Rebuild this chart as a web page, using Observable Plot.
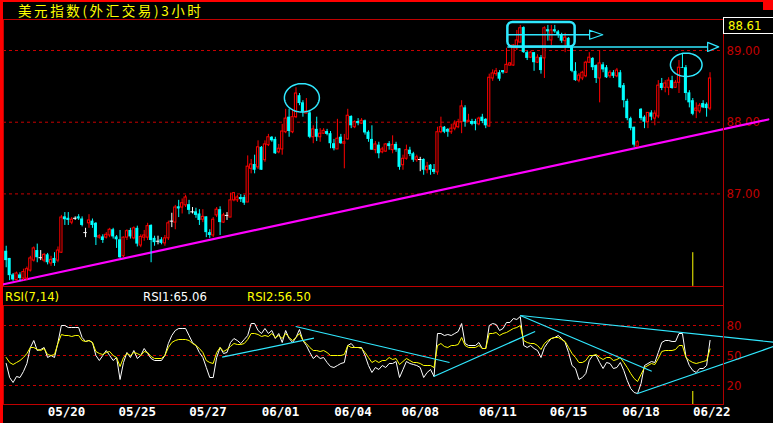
<!DOCTYPE html>
<html><head><meta charset="utf-8">
<script src="https://cdn.jsdelivr.net/npm/d3@7"></script>
<script src="https://cdn.jsdelivr.net/npm/@observablehq/plot@0.6"></script>
<style>
html,body{margin:0;padding:0;background:#000;}
#wrap{position:relative;width:773px;height:423px;background:#000;overflow:hidden;}
.abs{position:absolute;}
.t{position:absolute;white-space:nowrap;font-family:'Liberation Sans Narrow','DejaVu Sans Condensed','Liberation Sans',sans-serif;font-size:13px;line-height:13px;}
</style></head><body>
<div id="wrap">
  <div id="price" class="abs" style="left:0;top:0"></div>
  <div id="rsi" class="abs" style="left:0;top:287px"></div>
  <div class="abs" style="left:723px;top:19px;width:1px;height:386px;background:#b00000"></div>
  <div class="abs" style="left:0;top:0;width:773px;height:2px;background:#ff0000"></div>
  <div class="abs" style="left:0;top:0;width:3px;height:423px;background:#ff0000"></div>
  <div class="abs" style="left:763px;top:0;width:10px;height:10px;background:#ff0000"></div>
  <div class="abs" style="left:723px;top:17px;width:52px;height:17px;border:1px solid #fff;box-sizing:border-box"></div>
  <div id="last" class="t" style="left:728px;top:19px;color:#ffff00"></div>
  <div id="title" class="abs" style="left:18px;top:3px;color:#ffff00;font-family:'Noto Sans CJK SC',sans-serif;font-size:13.5px;line-height:14px;letter-spacing:2.6px;white-space:nowrap"></div>
  <div id="h0" class="t" style="left:5px;top:290px;color:#ffff00"></div>
  <div id="h1" class="t" style="left:143px;top:290px;color:#ffffff"></div>
  <div id="h2" class="t" style="left:247px;top:290px;color:#ffff00"></div>
</div>
<script>
const titleText = "美元指数(外汇交易)3小时";
const rsiName = "RSI(7,14)";

const opens = [
86.20,86.10,85.87,85.80,85.87,85.82,85.82,85.93,86.07,86.21,
86.11,86.07,86.15,86.03,86.10,86.07,86.18,86.68,86.66,86.60,
86.66,86.68,86.65,86.46,86.59,86.62,86.59,86.39,86.40,86.39,
86.42,86.50,86.40,86.36,86.13,86.39,86.49,86.38,86.52,86.28,
86.39,86.39,86.56,86.38,86.34,86.36,86.31,86.38,86.62,86.60,
86.82,86.81,86.84,86.85,86.75,86.75,86.72,86.64,86.68,86.46,
86.42,86.70,86.78,86.60,86.70,86.67,86.91,86.91,86.95,86.95,
86.88,87.35,87.41,87.37,87.65,87.47,87.68,87.79,87.76,87.58,
87.62,87.86,88.07,87.86,88.07,88.37,88.27,88.12,88.13,87.79,
87.90,87.79,87.84,87.87,87.84,87.70,87.62,87.79,87.70,87.76,
88.08,87.93,88.01,87.98,88.02,87.86,87.76,87.61,87.68,87.58,
87.59,87.70,87.61,87.69,87.63,87.40,87.49,87.61,87.56,87.47,
87.48,87.48,87.33,87.40,87.34,87.30,87.86,87.93,87.90,87.86,
87.91,87.93,88.00,88.20,88.00,88.01,88.01,87.97,88.07,88.04,
87.94,88.61,88.67,88.69,88.72,88.69,88.79,88.79,89.03,89.11,
89.32,88.97,88.90,88.97,88.83,88.90,88.89,89.29,89.14,89.29,
89.26,89.22,89.13,89.17,89.04,88.71,88.58,88.61,88.64,88.83,
88.89,88.79,88.61,88.80,88.76,88.64,88.69,88.64,88.69,88.51,
88.29,88.05,87.93,87.66,88.18,88.07,88.00,88.13,88.05,88.08,
88.54,88.48,88.48,88.58,88.48,88.55,88.76,88.76,88.41,88.30,
88.16,88.15,88.26,88.25,88.19];
const highs = [
86.27,86.10,85.89,85.91,85.90,85.95,85.98,86.13,86.26,86.30,
86.21,86.17,86.17,86.13,86.18,86.26,86.70,86.74,86.74,86.67,
86.68,86.71,86.68,86.52,86.71,86.65,86.60,86.43,86.43,86.46,
86.52,86.52,86.42,86.49,86.40,86.50,86.52,86.54,86.55,86.43,
86.49,86.59,86.57,86.41,86.41,86.39,86.42,86.62,86.73,86.84,
86.91,86.93,86.98,86.91,86.81,86.80,86.78,86.78,86.68,86.50,
86.67,86.81,86.82,86.73,86.74,87.01,87.02,86.98,86.99,86.98,
87.53,87.48,87.54,87.74,87.66,87.74,87.83,87.80,87.79,87.69,
87.97,88.18,88.18,88.18,88.48,88.40,88.30,88.33,88.16,87.95,
88.07,87.91,87.91,87.90,87.87,87.76,88.04,87.83,87.83,88.18,
88.09,88.02,88.05,88.05,88.03,87.88,87.95,87.73,87.72,87.65,
87.70,87.73,87.81,87.72,87.63,87.54,87.68,87.65,87.58,87.54,
87.51,87.49,87.44,87.41,87.41,87.93,88.07,87.94,87.91,87.97,
88.02,88.04,88.30,88.23,88.11,88.04,88.04,88.07,88.11,88.05,
88.67,88.73,88.75,88.72,88.72,89.03,88.83,89.08,89.28,89.35,
89.33,88.99,88.99,88.97,88.94,88.93,89.33,89.35,89.35,89.35,
89.28,89.24,89.24,89.18,89.06,88.83,88.68,88.71,88.85,88.97,
88.90,88.80,89.00,88.83,88.79,88.72,88.72,88.75,88.72,88.54,
88.32,88.07,87.93,87.74,88.19,88.09,88.13,88.16,88.16,88.58,
88.61,88.58,88.62,88.64,88.58,88.86,88.96,88.79,88.44,88.33,
88.27,88.26,88.30,88.27,88.69];
const lows = [
85.97,85.79,85.78,85.78,85.78,85.79,85.79,85.91,86.05,86.04,
86.07,86.04,86.01,85.99,85.99,86.04,86.17,86.56,86.56,86.57,
86.63,86.63,86.54,86.39,86.52,86.52,86.28,86.37,86.31,86.37,
86.39,86.37,86.24,86.10,86.11,86.35,86.37,86.36,86.26,86.25,
86.34,86.35,86.04,86.27,86.29,86.29,86.27,86.35,86.53,86.50,
86.67,86.72,86.81,86.71,86.72,86.66,86.56,86.60,86.39,86.38,
86.39,86.67,86.42,86.59,86.63,86.67,86.89,86.88,86.88,86.84,
86.88,87.28,87.28,87.34,87.33,87.44,87.66,87.72,87.55,87.56,
87.54,87.84,87.79,87.84,88.05,88.23,88.07,88.12,87.77,87.70,
87.73,87.72,87.83,87.81,87.63,87.60,87.62,87.69,87.35,87.75,
87.91,87.91,87.95,87.97,87.82,87.72,87.61,87.56,87.49,87.56,
87.58,87.61,87.56,87.58,87.33,87.33,87.47,87.52,87.44,87.44,
87.31,87.26,87.28,87.26,87.27,87.26,87.84,87.84,87.79,87.83,
87.88,87.91,87.84,87.93,88.00,87.95,87.88,87.95,87.98,87.91,
87.93,88.57,88.64,88.57,88.67,88.68,88.78,88.78,89.00,89.11,
88.96,88.86,88.89,88.71,88.82,88.67,88.61,89.13,89.07,89.24,
89.17,89.10,88.97,89.03,88.69,88.57,88.55,88.58,88.62,88.82,
88.72,88.54,88.27,88.69,88.61,88.61,88.61,88.62,88.47,88.20,
88.02,87.88,87.65,87.66,88.02,87.91,87.91,88.02,87.95,88.05,
88.44,88.41,88.37,88.46,88.47,88.40,88.75,88.30,88.20,88.09,
88.05,88.12,88.19,88.07,88.16];
const closes = [
86.07,85.86,85.80,85.89,85.82,85.91,85.95,86.10,86.24,86.11,
86.11,86.15,86.04,86.08,86.03,86.21,86.67,86.64,86.63,86.64,
86.66,86.65,86.56,86.46,86.63,86.56,86.39,86.41,86.35,86.43,
86.50,86.40,86.36,86.11,86.39,86.48,86.40,86.52,86.30,86.40,
86.42,86.55,86.35,86.32,86.34,86.31,86.38,86.59,86.62,86.81,
86.79,86.87,86.95,86.77,86.75,86.70,86.63,86.68,86.46,86.42,
86.64,86.78,86.60,86.70,86.70,86.91,87.01,86.95,86.92,86.87,
87.38,87.41,87.33,87.65,87.33,87.69,87.79,87.74,87.56,87.63,
87.87,88.05,87.87,88.07,88.40,88.26,88.14,88.15,87.79,87.90,
87.79,87.84,87.88,87.83,87.70,87.63,87.77,87.70,87.72,88.09,
87.95,88.00,87.98,88.02,87.85,87.76,87.61,87.69,87.56,87.62,
87.69,87.66,87.68,87.61,87.37,87.49,87.61,87.55,87.47,87.51,
87.48,87.33,87.38,87.33,87.30,87.86,87.93,87.86,87.86,87.91,
87.97,88.00,88.22,88.00,88.02,87.97,87.97,88.05,88.01,87.95,
88.62,88.68,88.71,88.60,88.69,88.80,88.82,89.07,89.14,89.31,
88.97,88.89,88.97,88.83,88.90,88.72,89.31,89.26,89.28,89.26,
89.21,89.13,89.18,89.04,88.71,88.58,88.65,88.69,88.83,88.90,
88.76,88.61,88.82,88.73,88.62,88.69,88.64,88.72,88.48,88.30,
88.05,87.91,87.68,87.72,88.05,88.00,88.13,88.07,88.12,88.51,
88.47,88.54,88.58,88.47,88.55,88.76,88.75,88.40,88.27,88.11,
88.19,88.23,88.20,88.19,88.61];

const rsi1 = [
42,28,23,29,28,34,42,58,65,55,
56,58,48,50,48,63,80,80,78,78,
78,78,68,64,65,63,50,45,50,55,
50,45,48,26,43,53,48,55,47,50,
57,52,47,45,45,45,50,62,70,75,
77,77,77,70,63,60,53,48,38,28,
28,48,58,52,53,63,67,65,62,66,
70,82,82,75,72,77,72,75,67,72,
63,75,67,63,68,76,65,60,53,47,
50,47,48,43,39,38,40,42,43,60,
62,58,58,58,50,40,33,38,36,40,
38,42,42,44,28,36,44,42,41,40,
38,28,33,36,29,72,72,70,71,70,
72,74,82,62,60,60,60,63,57,57,
80,82,81,75,77,83,83,87,86,89,
60,58,60,57,55,48,58,63,67,68,
70,67,63,53,40,37,26,28,32,45,
50,50,43,37,43,42,37,38,43,35,
25,17,13,12,22,40,42,44,43,53,
63,65,65,64,64,72,72,49,40,35,
33,37,37,40,65.06];
const rsi2 = [
48,43,41,43,45,48,52,58,58,56,
55,57,51,50,51,62,71,70,70,69,
70,70,65,64,65,63,54,52,51,53,
54,50,48,39,48,52,50,53,52,50,
54,53,49,47,47,47,50,58,63,65,
66,66,66,65,62,60,57,53,45,43,
42,53,58,54,56,59,62,61,61,62,
66,72,72,71,69,70,69,72,68,70,
67,72,68,65,68,72,65,62,58,55,
55,54,55,53,50,50,50,50,51,60,
58,58,58,57,53,48,43,45,43,45,
45,48,46,47,41,44,47,45,43,43,
42,40,40,40,38,60,62,59,58,60,
60,61,68,60,58,58,58,60,57,57,
72,72,73,70,72,73,75,77,78,80,
65,63,62,62,60,56,62,65,67,68,
68,66,64,58,52,48,43,43,45,50,
50,51,48,46,48,48,45,46,48,43,
38,32,27,24,31,38,40,42,41,47,
54,55,55,55,56,60,60,48,45,43,
42,43,44,45,56.50];

const priceTicks = [87, 88, 89];
const rsiTicks = [20, 50, 80];
const dateIdx = [17.5, 38, 58.5, 79.5, 100.5, 120, 142.5, 163, 184, 204.5];
const dateLabels = ["05/20","05/25","05/27","06/01","06/04","06/08","06/11","06/15","06/18","06/22"];

// drawn annotations (candle index, price / RSI value)
const supportLine = [{i: -1.07, p: 85.736}, {i: 220.9, p: 88.038}];
const peakRings = [[85.7, 88.34, 5.07, 0.198], [197.1, 88.80, 4.58, 0.163]];
const topBox = [{i1: 145.4, i2: 164.9, p1: 89.05, p2: 89.39}];
const arrowLevels = [{p: 89.22, from: 145.4, to: 169.1, tip: 172.9}, {p: 89.05, from: 145.4, to: 203.3, tip: 206.5}];
const rsiTrendFrom = [[62.6, 48.3], [83.9, 79], [123.9, 29], [149, 90], [149, 90], [182.8, 11.7]];
const rsiTrendTo   = [[89.2, 67.3], [128.5, 43], [153.3, 74], [187.1, 34.3], [222.4, 63.3], [222.4, 59]];
const cursorIdx = 199;

const n = closes.length;
const candles = d3.range(n).map(i => ({i, o: opens[i], h: highs[i], l: lows[i], c: closes[i]}));
const up = candles.filter(d => d.c > d.o);
const down = candles.filter(d => d.c < d.o);
const doji = candles.filter(d => d.c === d.o);

const RED = "#ff0000", CYAN = "#00ffff", ANN = "#30e8ff", GRID = "#c80000", AX = "#c00000";
const AXF = "'Liberation Sans Narrow','DejaVu Sans Condensed','Liberation Sans',sans-serif";
const xDomain = [-0.78, 207.9];

const ellipse = ([cx, cy, rx, ry], k) => d3.range(0, 360, 5).map(a => ({k, x: cx + rx * Math.cos(a * Math.PI / 180), y: cy + ry * Math.sin(a * Math.PI / 180)}));
const ringPts = peakRings.flatMap((r, k) => ellipse(r, k));
const headPts = arrowLevels.flatMap((a, k) => {
  const h = 0.063;
  return [{k, x: a.to, y: a.p + h}, {k, x: a.tip, y: a.p}, {k, x: a.to, y: a.p - h}, {k, x: a.to, y: a.p + h}];
});

const price = Plot.plot({
  width: 773, height: 287,
  marginLeft: 3, marginRight: 50, marginTop: 19, marginBottom: 1,
  x: {domain: xDomain, axis: null},
  y: {domain: [85.7086, 89.4324], axis: null},
  style: {background: "transparent", overflow: "visible"},
  marks: [
    Plot.ruleY(priceTicks, {stroke: GRID, strokeDasharray: "3,3"}),
    Plot.frame({stroke: AX}),
    Plot.text(priceTicks, {y: d => d, frameAnchor: "right", dx: 3, textAnchor: "start", text: d => d.toFixed(2), fill: AX, fontSize: 13, fontFamily: AXF}),
    Plot.line(supportLine, {x: "i", y: "p", stroke: "#ff00ff", strokeWidth: 2.2}),
    Plot.ruleX([cursorIdx], {x: d => d, y1: () => 85.71, y2: () => 86.18, stroke: "#ffff00"}),
    Plot.ruleX(up, {x: "i", y1: "l", y2: "h", stroke: RED}),
    Plot.ruleX(down, {x: "i", y1: "l", y2: "h", stroke: CYAN}),
    Plot.ruleX(doji, {x: "i", y1: "l", y2: "h", stroke: "#ffffff"}),
    Plot.rect(down, {x1: d => d.i - 0.44, x2: d => d.i + 0.44, y1: "o", y2: "c", fill: CYAN}),
    Plot.rect(up, {x1: d => d.i - 0.32, x2: d => d.i + 0.32, y1: "o", y2: "c", fill: "#000", stroke: RED, strokeWidth: 1}),
    Plot.ruleY(doji, {x1: d => d.i - 0.5, x2: d => d.i + 0.5, y: "c", stroke: "#ffffff"}),
    Plot.line(ringPts, {x: "x", y: "y", z: "k", curve: "linear-closed", stroke: ANN, strokeWidth: 1.5}),
    Plot.rect(topBox, {x1: "i1", x2: "i2", y1: "p1", y2: "p2", fill: "none", stroke: ANN, strokeWidth: 2.5, rx: 5}),
    Plot.ruleY(arrowLevels, {y: "p", x1: "from", x2: "to", stroke: ANN, strokeWidth: 1.5}),
    Plot.line(headPts, {x: "x", y: "y", z: "k", stroke: ANN, strokeWidth: 1.2})
  ]
});
document.getElementById("price").append(price);

const rsiPlot = Plot.plot({
  width: 773, height: 136,
  marginLeft: 3, marginRight: 50, marginTop: 18, marginBottom: 19,
  x: {domain: xDomain, axis: null},
  y: {domain: [1, 100], axis: null},
  style: {background: "transparent", overflow: "visible"},
  marks: [
    Plot.ruleY(rsiTicks, {stroke: GRID, strokeDasharray: "3,3"}),
    Plot.frame({stroke: AX}),
    Plot.text(rsiTicks, {y: d => d, frameAnchor: "right", dx: 3, textAnchor: "start", text: d => String(d), fill: AX, fontSize: 13, fontFamily: AXF}),
    Plot.ruleX([cursorIdx], {x: d => d, y1: () => 1, y2: () => 14, stroke: "#ffff00"}),
    Plot.line(rsi1, {x: (d, i) => i, y: d => d, stroke: "#ffffff", strokeWidth: 1}),
    Plot.line(rsi2, {x: (d, i) => i, y: d => d, stroke: "#ffff00", strokeWidth: 1}),
    Plot.link(d3.range(rsiTrendFrom.length), {
      x1: k => rsiTrendFrom[k][0], y1: k => rsiTrendFrom[k][1],
      x2: k => rsiTrendTo[k][0], y2: k => rsiTrendTo[k][1],
      stroke: ANN, strokeWidth: 1.2
    }),
    Plot.text(dateIdx, {x: d => d, frameAnchor: "bottom", dy: 11.5, text: (d, i) => dateLabels[i], fill: "#ffffff", fontWeight: "bold", fontSize: 12.5, fontFamily: "'DejaVu Sans Mono',monospace"})
  ]
});
document.getElementById("rsi").append(rsiPlot);

document.getElementById("title").textContent = titleText;
document.getElementById("last").textContent = closes[n - 1].toFixed(2);
document.getElementById("h0").textContent = rsiName;
document.getElementById("h1").textContent = "RSI1:" + rsi1[n - 1].toFixed(2);
document.getElementById("h2").textContent = "RSI2:" + rsi2[n - 1].toFixed(2);
</script>
</body></html>
